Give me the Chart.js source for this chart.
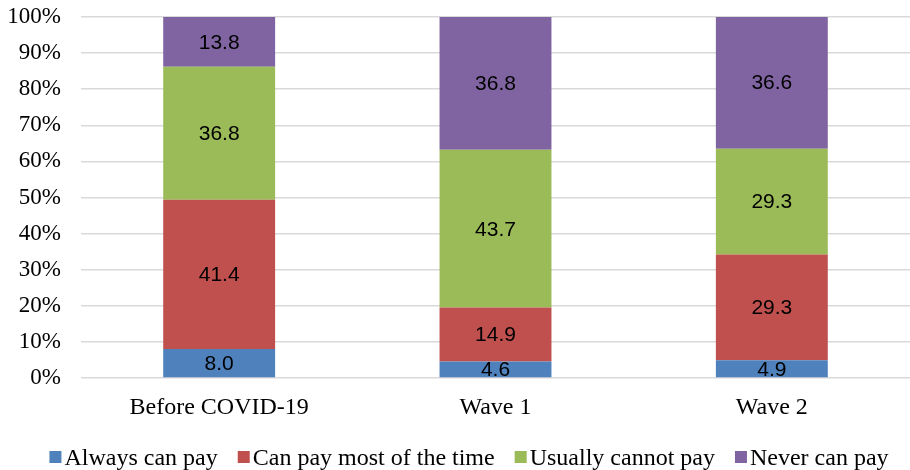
<!DOCTYPE html>
<html><head><meta charset="utf-8">
<script src="https://cdn.jsdelivr.net/npm/chart.js@4"></script>
<style>html,body{margin:0;padding:0;background:#fff}#wrap{width:910px;height:470px}</style>
</head><body><div id="wrap"><canvas id="c" width="910" height="470"></canvas></div>
<script>
const categories = ["Before COVID-19", "Wave 1", "Wave 2"];
const alwaysCanPay = [8.0, 4.6, 4.9];
const canPayMost = [41.4, 14.9, 29.3];
const usuallyCannot = [36.8, 43.7, 29.3];
const neverCanPay = [13.8, 36.8, 36.6];
const seriesNames = ["Always can pay", "Can pay most of the time", "Usually cannot pay", "Never can pay"];
const colors = ["#4f81bd", "#c0504d", "#9bbb59", "#8064a2"];
const yTicks = [0,10,20,30,40,50,60,70,80,90,100];

const serif = '"Liberation Serif", "Times New Roman", serif';

const labelPlugin = {
  id: 'barLabels',
  afterDatasetsDraw(chart) {
    const ctx = chart.ctx;
    ctx.save();
    ctx.font = '21px "Liberation Sans", Arial, sans-serif';
    ctx.fillStyle = '#000';
    ctx.textAlign = 'center';
    ctx.textBaseline = 'middle';
    chart.data.datasets.forEach((ds, i) => {
      chart.getDatasetMeta(i).data.forEach((bar, j) => {
        const p = bar.getProps(['x','y','base'], true);
        ctx.fillText(ds.data[j].toFixed(1), p.x, (p.y + p.base) / 2 + 1);
      });
    });
    ctx.restore();
  }
};

const legendPlugin = {
  id: 'customLegend',
  afterDraw(chart) {
    const ctx = chart.ctx;
    ctx.save();
    ctx.font = '24px ' + serif;
    ctx.textBaseline = 'alphabetic';
    ctx.textAlign = 'left';
    const box = 12, gapText = 3, gapItem = 20;
    const widths = seriesNames.map(n => ctx.measureText(n).width);
    const total = widths.reduce((a, w) => a + box + gapText + w, 0) + gapItem * (seriesNames.length - 1);
    let x = 469 - total / 2;
    const baseline = 465;
    seriesNames.forEach((n, i) => {
      ctx.fillStyle = colors[i];
      ctx.fillRect(x, 451, box, box);
      ctx.fillStyle = '#000';
      ctx.fillText(n, x + box + gapText, baseline);
      x += box + gapText + widths[i] + gapItem;
    });
    ctx.restore();
  }
};

new Chart(document.getElementById('c'), {
  type: 'bar',
  data: {
    labels: categories,
    datasets: [alwaysCanPay, canPayMost, usuallyCannot, neverCanPay].map((d, i) => ({
      label: seriesNames[i], data: d, backgroundColor: colors[i],
      barPercentage: 0.81, categoryPercentage: 0.5
    }))
  },
  options: {
    responsive: false, animation: false,
    layout: { padding: { left: 7, right: 0, top: 17, bottom: 51 } },
    plugins: {
      legend: { display: false },
      tooltip: { enabled: false }
    },
    scales: {
      x: {
        stacked: true,
        grid: { display: false },
        border: { display: false },
        ticks: { font: { family: serif, size: 24 }, color: '#000', padding: 7 },
        afterFit: (s) => { s.height = 41; s.paddingLeft = 0; s.paddingRight = 0; }
      },
      y: {
        stacked: true, min: 0, max: 100,
        afterBuildTicks: (s) => { s.ticks = yTicks.map(v => ({ value: v })); },
        grid: { color: '#d9d9d9', lineWidth: 1.5, drawTicks: false },
        border: { display: false },
        ticks: { font: { family: serif, size: 23 }, color: '#000', padding: 20, callback: v => v + '%' },
        afterFit: (s) => { s.width = 74; s.paddingTop = 0; s.paddingBottom = 0; }
      }
    }
  },
  plugins: [labelPlugin, legendPlugin]
});
</script></body></html>
